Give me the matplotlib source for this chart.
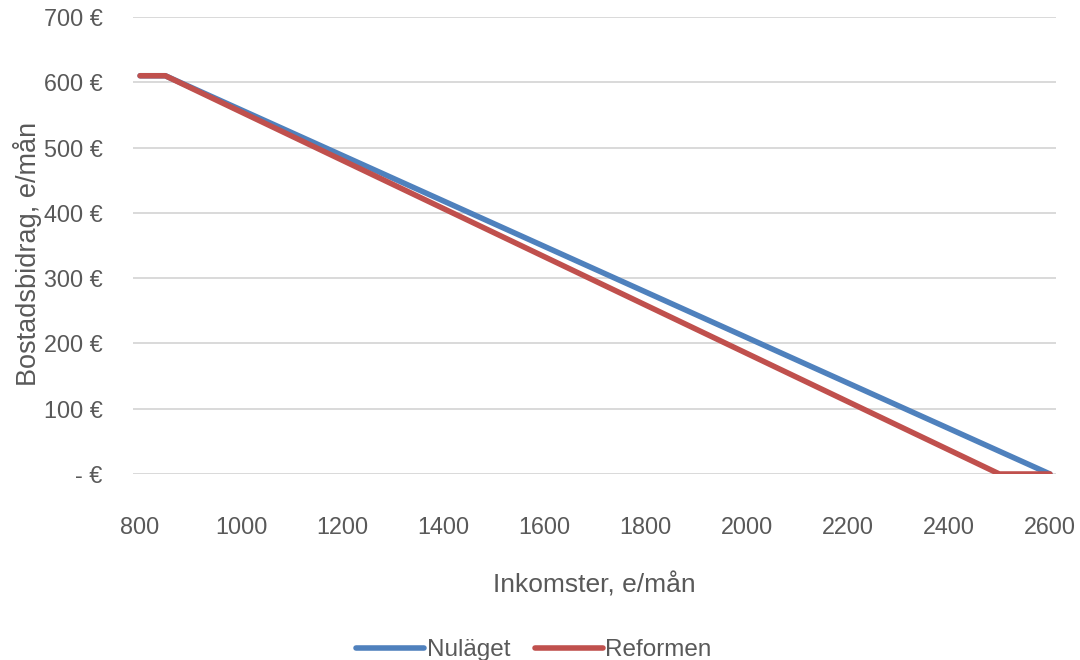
import matplotlib
matplotlib.use("Agg")
import matplotlib.pyplot as plt
from matplotlib.lines import Line2D

plt.rcParams['font.family'] = ['Liberation Sans', 'DejaVu Sans']

# Data
nul_x = [800, 850, 2600]
nul_y = [610, 610, 0]
ref_x = [800, 850, 2500, 2600]
ref_y = [610, 610, 0, 0]
xticks = [800, 1000, 1200, 1400, 1600, 1800, 2000, 2200, 2400, 2600]
yticks = [0, 100, 200, 300, 400, 500, 600, 700]
ytick_labels = ['- €', '100 €', '200 €', '300 €', '400 €', '500 €', '600 €', '700 €']
series_names = ['Nuläget', 'Reformen']

blue = '#4F81BD'
red = '#C0504D'
gray = '#595959'

fig = plt.figure(figsize=(10.8, 6.6), dpi=100)
ax = fig.add_axes([133/1080, 1-474/660, (1056-133)/1080, (474-17)/660])

ax.plot(nul_x, nul_y, color=blue, lw=4.0, solid_capstyle='round', solid_joinstyle='round', zorder=3)
ax.plot(ref_x, ref_y, color=red, lw=4.0, solid_capstyle='round', solid_joinstyle='round', zorder=4)

ax.set_xlim(786, 2612)
ax.set_ylim(0, 700)
ax.set_xticks(xticks)
ax.set_yticks(yticks)
ax.set_yticklabels(ytick_labels)
ax.tick_params(axis='both', length=0, labelsize=16.8, labelcolor=gray)
ax.tick_params(axis='x', pad=30)
ax.tick_params(axis='y', pad=22)
ax.grid(axis='y', color='#D9D9D9', lw=1.4)
ax.set_axisbelow(True)
for s in ax.spines.values():
    s.set_visible(False)

ax.set_xlabel('Inkomster, e/mån', fontsize=19, color=gray, labelpad=24)
ax.set_ylabel('Bostadsbidrag, e/mån', fontsize=19.5, color=gray)
ax.yaxis.set_label_coords((42-133)/923, (474-254)/457)

handles = [Line2D([0], [0], color=blue, lw=4.0, solid_capstyle='round'),
           Line2D([0], [0], color=red, lw=4.0, solid_capstyle='round')]
fig.legend(handles, series_names, loc='center', bbox_to_anchor=(534/1080, 1-650/660),
           ncol=2, frameon=False, fontsize=17.5, labelcolor=gray,
           handlelength=2.8, handletextpad=0.1, columnspacing=1.0)

fig.savefig('out.png', dpi=100)
